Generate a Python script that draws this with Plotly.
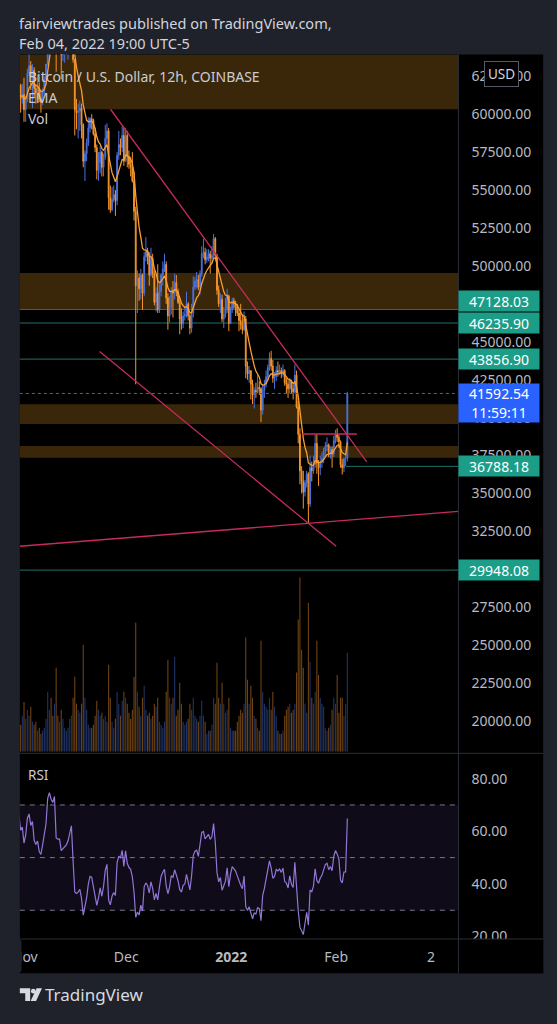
import plotly.graph_objects as go
import pandas as pd

W, H = 557, 1024
def fx(p): return p / W
def fy(p): return 1 - p / H

# ---------------- data (12h candles, UTC-5 timestamps) ----------------
first_open = 61300
close = [60500, 60900, 62300, 63100, 62000, 60400, 59200, 58500, 59600, 60600,
         61900, 62300, 61500, 61900, 61000, 61300,
         60300, 61000, 62700, 63200, 62500, 62900, 61700, 61400, 61700, 61000,
         60800, 61500, 62300, 63300, 66500, 67500, 67100, 66900, 67800, 64900,
         64800, 64800, 63900, 64100, 64300, 64400, 64700, 65500, 66000, 63600,
         60300, 60100, 60200, 60400, 59300, 56900, 57400, 58100, 59100, 59700,
         59600, 58700, 57800, 56300, 56800, 57500, 56500, 57200, 58400, 58900,
         54500, 53700, 54400, 54700, 54300, 57300, 58000, 57800, 58600, 56900,
         58600, 57200, 56700, 56500, 55600, 53600, 48700, 49200, 48500, 49400,
         48200, 50600, 51000, 50600, 49400, 50500, 49500, 47600, 48200, 47100,
         48300, 49400, 49800, 50100, 47900, 46700, 47300, 48400, 48200, 48900,
         48300, 47600, 46500, 46200, 46700, 46800, 47500, 46700, 45900, 46900,
         48600, 49000, 49100, 48600, 49500, 50800, 50900, 50400, 50600, 50800,
         50500, 50700, 51800, 50700, 48400, 47500, 47800, 46500, 46800, 47100,
         48000, 46200,
         47100, 47700, 47500, 47300, 46900, 46400, 46100, 45800, 46500, 43400,
         42900, 43100, 42200, 41500, 41800, 41700, 42000, 41900, 40500, 41800,
         42200, 42700, 43300, 43900, 43400, 42600, 42700, 43100, 43000, 43100,
         42900, 43100, 42300, 42200, 41900, 42400, 41900, 41700, 42800, 40700,
         38900, 36500, 35800, 35100, 35700, 36300, 34300, 36700, 36500, 36900,
         38300, 37000, 36700, 37100, 37300, 37800, 38100, 38200, 37700, 37900,
         37600, 38500,
         38900, 38700, 38400, 36900, 36700, 37300, 37300, 41592.54]
high = [61500, 61200, 62400, 63700, 63300, 62300, 60700, 59500, 60200, 62400,
        62600, 62900, 62300, 62200, 62000, 62000,
        62400, 61200, 63000, 64300, 63500, 63300, 63100, 62000, 62600, 62100,
        61500, 61700, 62500, 63300, 66900, 68000, 68500, 67400, 69000, 68300,
        65500, 65600, 65000, 64900, 65000, 64900, 65000, 65600, 66300, 66300,
        63600, 61000, 60700, 60900, 60700, 59400, 57600, 58400, 59800, 59800,
        60000, 59700, 59100, 58000, 57500, 57900, 57600, 57400, 59300, 59400,
        59100, 55300, 55200, 55300, 55000, 57500, 58900, 58400, 59200, 59100,
        59100, 58900, 57600, 57200, 57500, 56200, 53900, 49700, 49500, 49800,
        49500, 50900, 51900, 51200, 50900, 51200, 50800, 49700, 48600, 50100,
        48800, 49500, 50300, 50800, 50300, 48200, 48000, 48600, 49000, 49500,
        49400, 48500, 47900, 47200, 47000, 47300, 48300, 47600, 46900, 47500,
        49300, 49300, 49600, 49400, 49700, 51300, 51800, 51200, 51100, 51100,
        51000, 51300, 52100, 51900, 50800, 48700, 48200, 48100, 47300, 47900,
        48500, 48100,
        47300, 47900, 47900, 47700, 47500, 47100, 47500, 46800, 47000, 46700,
        43700, 43400, 43100, 42500, 42000, 42300, 42800, 42400, 42000, 42200,
        42500, 43100, 43500, 44300, 44400, 43800, 43000, 43400, 43700, 43500,
        43300, 43500, 43200, 42600, 42500, 42600, 42500, 42200, 43500, 43100,
        41100, 39300, 36800, 36500, 35900, 36500, 36400, 37500, 37100, 37500,
        38900, 38900, 37200, 37500, 37700, 38000, 38400, 38700, 38300, 38100,
        38100, 38800,
        39200, 39300, 38900, 38500, 37300, 37400, 37600, 41700]
low = [60300, 59600, 60700, 62000, 61800, 60100, 58900, 58000, 57900, 59300,
       60400, 61600, 60700, 61300, 60100, 60700,
       59500, 59500, 60800, 62500, 61600, 60400, 61100, 60700, 61000, 60800,
       60100, 60600, 61300, 61900, 63200, 66300, 66500, 66300, 66800, 62800,
       64100, 64300, 62300, 63500, 63400, 63900, 63600, 64200, 65000, 63400,
       58600, 59000, 58400, 58900, 58400, 56500, 55600, 56900, 57900, 58800,
       59000, 58600, 57500, 55700, 55600, 56100, 55900, 55900, 57000, 58000,
       53700, 53500, 53600, 54200, 53300, 54000, 57000, 57300, 57500, 56600,
       56900, 56500, 56400, 55900, 55500, 53000, 42200, 46900, 47700, 47800,
       47100, 48000, 50300, 50100, 48700, 49300, 49200, 47400, 47000, 46900,
       46900, 48000, 48700, 49600, 47500, 45800, 46300, 46800, 46600, 47800,
       48000, 47500, 45500, 45800, 45900, 46400, 46600, 46400, 45500, 45600,
       46600, 48400, 48500, 48400, 48100, 49300, 50500, 50100, 50200, 50300,
       49500, 50200, 50500, 50500, 48100, 47300, 46900, 46300, 45900, 46600,
       46900, 45700,
       46200, 46900, 47200, 46700, 46700, 45700, 45800, 45500, 45700, 42600,
       42500, 42300, 41200, 40900, 40600, 41300, 41600, 41500, 39700, 40200,
       41300, 42000, 42500, 43100, 43100, 42300, 41900, 42400, 42700, 42800,
       42600, 42700, 42100, 41600, 41300, 41600, 41600, 41200, 41600, 40600,
       38300, 35600, 35000, 34000, 34800, 35400, 33000, 34100, 35800, 36300,
       36700, 36300, 35500, 36200, 36700, 37000, 37400, 37800, 37400, 37300,
       36700, 37400,
       38300, 38400, 38000, 36700, 36250, 36400, 36800, 37100]
volume = [4.0, 3.5, 5.0, 6.0, 5.5, 6.5, 8.0, 9.0, 9.5, 8.0,
          6.5, 5.0, 4.0, 3.5, 4.5, 6.0,
          8.3, 5.5, 7.0, 6.0, 7.5, 5.0, 4.5, 5.0, 3.5, 4.0,
          3.0, 3.5, 4.0, 5.5, 10.0, 7.0, 9.0, 6.0, 8.0, 14.0,
          6.0, 5.0, 7.0, 5.5, 4.0, 3.5, 4.0, 5.5, 6.0, 9.0,
          12.5, 8.0, 7.0, 6.5, 8.0, 17.8, 9.0, 7.0, 4.5, 4.0,
          4.0, 4.5, 6.0, 8.5, 7.0, 6.0, 6.5, 5.5, 6.0, 5.0,
          14.5, 9.0, 5.0, 4.0, 5.5, 10.0, 8.0, 6.0, 8.5, 10.0,
          9.0, 8.0, 6.5, 5.5, 7.0, 12.5, 21.5, 10.0, 7.5, 6.0,
          9.0, 11.0, 7.0, 6.0, 6.5, 5.5, 6.0, 8.0, 7.5, 9.0,
          5.0, 4.5, 4.0, 5.0, 10.0, 15.3, 9.0, 8.0, 9.0, 15.8,
          6.0, 7.0, 11.5, 8.0, 5.0, 4.5, 5.0, 5.5, 8.0, 7.0,
          9.0, 6.0, 5.5, 5.0, 6.0, 8.5, 6.0, 5.0, 3.0, 3.5,
          3.5, 4.5, 9.0, 8.0, 14.8, 9.0, 8.0, 11.5, 8.0, 6.5,
          7.0, 9.0,
          4.0, 3.5, 3.5, 3.5, 5.0, 6.0, 7.0, 6.5, 8.0, 19.0,
          12.0, 8.0, 11.0, 9.0, 6.0, 5.5, 4.0, 3.5, 18.5, 10.0,
          8.0, 7.5, 7.0, 9.0, 7.0, 10.0, 7.5, 6.0, 3.5, 3.0,
          3.0, 3.5, 6.0, 7.0, 7.5, 8.0, 6.5, 7.0, 8.0, 13.2,
          22.0, 29.0, 17.0, 14.0, 8.0, 6.5, 24.8, 15.0, 9.0, 8.0,
          10.0, 18.5, 12.8, 9.0, 8.0, 7.5, 4.0, 3.5, 4.0, 4.5,
          7.0, 9.0,
          8.0, 12.8, 6.5, 9.0, 9.0, 6.0, 8.0, 16.5]

dates = pd.date_range("2021-10-23 19:00", periods=len(close), freq="12h")
opens = [first_open] + close[:-1]

# price levels / drawings
level_prices = [47128.03, 46235.90, 43856.90, 29948.08]
level_short = 36788.18
level_short_start = "2022-02-03 22:00"
last_price = 41592.54
countdown = "11:59:11"
zones = [(60327, 63928), (47128.03, 49525), (39575, 40884), (37350, 38130)]
trend_down_x = ["2021-11-26 08:13", "2022-02-10 00:43"]
trend_down_y = [60327, 37087]
trend_low_x = ["2021-11-23 03:20", "2022-02-01 00:00"]
trend_low_y = [44354, 31522]
trend_rise_x = ["2021-10-30 13:26", "2022-03-09 02:40"]
trend_rise_y = [31522, 33814]
hline_x = ["2022-01-21 19:40", "2022-02-07 03:00"]
hline_y = [38920, 38920]

price_ticks = [20000, 22500, 25000, 27500, 30000, 32500, 35000, 37500, 40000,
               42500, 45000, 47500, 50000, 52500, 55000, 57500, 60000, 62500]
rsi_ticks = [20, 40, 60, 80]
rsi_levels = [70, 50, 30]
time_ticks = ["2021-11-01", "2021-12-01", "2022-01-01", "2022-02-01", "2022-03-01"]
time_labels = ["Nov", "Dec", "<b>2022</b>", "Feb", "2"]

x_range = ["2021-10-30 13:26", "2022-03-09 02:40"]
price_range = [17971, 63928]
rsi_range = [19.25, 89.06]
vol_range = [0, 116]

# indicators (EMA 9, RSI 14 Wilder) from closes
cs = pd.Series(close, dtype=float)
ema = cs.ewm(span=9, adjust=False).mean()
delta = cs.diff()
gain = delta.clip(lower=0)
loss = -delta.clip(upper=0)
avg_g = gain.ewm(alpha=1 / 14, adjust=False).mean()
avg_l = loss.ewm(alpha=1 / 14, adjust=False).mean()
rsi = 100 - 100 / (1 + avg_g / avg_l)

# ---------------- styles ----------------
BG = "#1f222a"
UP = "#4a72dd"
DOWN = "#f5952c"
EMA_C = "#f7a035"
TREND = "#c72b5e"
TEAL_LINE = "#21706a"
TEAL_BOX = "#1c9d88"
BLUE = "#2962ff"
TXT = "#c9ccd4"
AX = "#b7bac2"
SEP = "#2a2e39"
FONT = "Noto Sans"

vol_colors = ["rgba(74,114,221,0.45)" if c >= o else "rgba(245,149,44,0.45)"
              for o, c in zip(opens, close)]

fig = go.Figure()
fig.add_trace(go.Bar(x=dates, y=volume, marker_color=vol_colors, marker_line_width=0,
                     xaxis="x", yaxis="y3", hoverinfo="skip", showlegend=False))
fig.add_trace(go.Candlestick(x=dates, open=opens, high=high, low=low, close=close,
                             increasing=dict(line=dict(color=UP, width=1), fillcolor=UP),
                             decreasing=dict(line=dict(color=DOWN, width=1), fillcolor=DOWN),
                             whiskerwidth=0, xaxis="x", yaxis="y", showlegend=False))
fig.add_trace(go.Scatter(x=dates, y=ema, mode="lines", line=dict(color=EMA_C, width=1.3),
                         xaxis="x", yaxis="y", showlegend=False))
for xs, ys in [(trend_down_x, trend_down_y), (trend_low_x, trend_low_y),
               (trend_rise_x, trend_rise_y), (hline_x, hline_y)]:
    fig.add_trace(go.Scatter(x=xs, y=ys, mode="lines", line=dict(color=TREND, width=1.3),
                             xaxis="x", yaxis="y", showlegend=False))
fig.add_trace(go.Scatter(x=dates, y=rsi, mode="lines", line=dict(color="#9276d6", width=1.2),
                         xaxis="x2", yaxis="y2", showlegend=False))

shapes = []
# black chart canvas
shapes.append(dict(type="rect", xref="paper", yref="paper", x0=fx(12), x1=fx(543),
                   y0=fy(980), y1=fy(55), fillcolor="#000000", line_width=0, layer="below"))
for lo, hi in zones:
    shapes.append(dict(type="rect", xref="paper", yref="y", x0=fx(12), x1=fx(457),
                       y0=lo, y1=hi, fillcolor="#3a2709", line_width=0, layer="below"))
shapes.append(dict(type="rect", xref="paper", yref="y2", x0=fx(12), x1=fx(457),
                   y0=rsi_levels[2], y1=rsi_levels[0], fillcolor="rgba(126,87,194,0.13)",
                   line_width=0, layer="below"))
for lv in level_prices:
    shapes.append(dict(type="line", xref="paper", yref="y", x0=fx(12), x1=fx(457),
                       y0=lv, y1=lv, line=dict(color=TEAL_LINE, width=1), layer="below"))
shapes.append(dict(type="line", xref="x", yref="y", x0=level_short_start, x1=x_range[1],
                   y0=level_short, y1=level_short, line=dict(color=TEAL_LINE, width=1),
                   layer="below"))
shapes.append(dict(type="line", xref="paper", yref="y", x0=fx(12), x1=fx(457),
                   y0=last_price, y1=last_price, line=dict(color=BLUE, width=1, dash="dot"),
                   layer="above"))
for lv in rsi_levels:
    shapes.append(dict(type="line", xref="paper", yref="y2", x0=fx(12), x1=fx(457),
                       y0=lv, y1=lv, line=dict(color="#787b86", width=1, dash="5px,5px"),
                       layer="below"))
# cover clipped labels
shapes.append(dict(type="rect", xref="paper", yref="paper", x0=fx(457.5), x1=fx(543),
                   y0=fy(980), y1=fy(945.5), fillcolor="#000000", line_width=0, layer="above"))
shapes.append(dict(type="rect", xref="paper", yref="paper", x0=0, x1=fx(12),
                   y0=fy(990), y1=fy(940), fillcolor=BG, line_width=0, layer="above"))
# separators
shapes.append(dict(type="line", xref="paper", yref="paper", x0=fx(457), x1=fx(457),
                   y0=fy(980), y1=fy(55), line=dict(color=SEP, width=1), layer="above"))
for yy in (758.5, 945.5):
    shapes.append(dict(type="line", xref="paper", yref="paper", x0=fx(12), x1=fx(543),
                       y0=fy(yy), y1=fy(yy), line=dict(color=SEP, width=1), layer="above"))

# TradingView logo
def path(pts):
    return "M " + " L ".join(f"{fx(a):.5f},{fy(b):.5f}" for a, b in pts) + " Z"
LOGO = "#d8dae0"
shapes.append(dict(type="path", xref="paper", yref="paper",
                   path=path([(12, 995), (22.5, 995), (22.5, 1008), (17.5, 1008), (17.5, 1000), (12, 1000)]),
                   fillcolor=LOGO, line_width=0))
shapes.append(dict(type="circle", xref="paper", yref="paper", x0=fx(23.3), x1=fx(28),
                   y0=fy(1000.3), y1=fy(995.6), fillcolor=LOGO, line_width=0))
shapes.append(dict(type="path", xref="paper", yref="paper",
                   path=path([(29, 995), (34.5, 995), (28.5, 1008), (23, 1008)]),
                   fillcolor=LOGO, line_width=0))

ann = []
def text(x, y, s, size=14, color=TXT, anchor="left"):
    ann.append(dict(xref="paper", yref="paper", x=fx(x), y=fy(y), text=s, showarrow=False,
                    xanchor=anchor, yanchor="middle", font=dict(family=FONT, size=size, color=color)))

text(9, 23, "fairviewtrades published on TradingView.com,", 14.5, "#d1d4dc")
text(9, 43, "Feb 04, 2022 19:00 UTC-5", 14.5, "#d1d4dc")
text(18, 77, "Bitcoin / U.S. Dollar, 12h, COINBASE", 14, TXT)
text(18, 98, "EMA", 14, TXT)
text(18, 119, "Vol", 14, TXT)
text(18, 780, "RSI", 13.5, TXT)
text(36, 1001, "TradingView", 17, "#d8dae0")

shifts = {47128.03: 8, 46235.90: 0, 43856.90: 0, 29948.08: 0}
for lv in level_prices + [level_short]:
    ann.append(dict(xref="paper", yref="y", x=fx(457), y=lv, xanchor="left", yanchor="middle",
                    text=f"{lv:.2f}", showarrow=False, bgcolor=TEAL_BOX, width=76, height=16,
                    borderpad=2, align="center", yshift=shifts.get(lv, 0),
                    font=dict(family=FONT, size=14, color="#ffffff")))
ann.append(dict(xref="paper", yref="y", x=fx(457), y=last_price, xanchor="left", yanchor="middle",
                text=f"{last_price:.2f}<br>{countdown}", showarrow=False, bgcolor=BLUE,
                width=76, height=34, borderpad=2, align="center", yshift=-10,
                font=dict(family=FONT, size=14, color="#ffffff")))
ann.append(dict(xref="paper", yref="paper", x=fx(500.5), y=fy(74.5), xanchor="center",
                yanchor="middle", text="USD", showarrow=False, bgcolor="#000000",
                bordercolor="#565a66", borderwidth=1, borderpad=3,
                font=dict(family=FONT, size=13.5, color="#d1d4dc")))
# page-edge cover so the first month label is cut at the pane edge as in the reference
ann.append(dict(xref="paper", yref="paper", x=0, y=fy(963), xanchor="left", yanchor="middle",
                text=" ", showarrow=False, bgcolor=BG, width=12, height=30, borderpad=0,
                font=dict(size=10)))

fig.update_layout(
    width=W, height=H, margin=dict(l=0, r=0, t=0, b=0),
    paper_bgcolor=BG, plot_bgcolor="rgba(0,0,0,0)", showlegend=False,
    font=dict(family=FONT, size=14, color=AX),
    bargap=0.35,
    xaxis=dict(domain=[fx(12), fx(457)], range=x_range, type="date", anchor="y",
               showticklabels=False, showgrid=False, zeroline=False, showline=False,
               rangeslider=dict(visible=False)),
    xaxis2=dict(domain=[fx(12), fx(457)], range=x_range, type="date", anchor="y2",
                matches="x", showgrid=False, zeroline=False, showline=False,
                tickvals=time_ticks, ticktext=time_labels, ticks="",
                ticklabelstandoff=8, tickfont=dict(family=FONT, size=14, color=AX)),
    yaxis=dict(domain=[fy(757), fy(55)], range=price_range, side="right", anchor="x",
               tickvals=price_ticks, ticktext=[f"{v:.2f}" for v in price_ticks],
               showgrid=False, zeroline=False, showline=False, ticks="",
               ticklabelstandoff=12, tickfont=dict(family=FONT, size=14, color=AX)),
    yaxis2=dict(domain=[fy(945), fy(760)], range=rsi_range, side="right", anchor="x2",
                tickvals=rsi_ticks, ticktext=[f"{v:.2f}" for v in rsi_ticks],
                showgrid=False, zeroline=False, showline=False, ticks="",
                ticklabelstandoff=12, tickfont=dict(family=FONT, size=14, color=AX)),
    yaxis3=dict(overlaying="y", range=vol_range, visible=False, anchor="x"),
    shapes=shapes, annotations=ann,
)

fig.write_html("out.html", config={"displayModeBar": False},
               post_script="document.body.style.margin='0';document.body.style.padding='0';"
                           "document.documentElement.style.overflow='hidden';"
                           "document.body.style.overflow='hidden';")
